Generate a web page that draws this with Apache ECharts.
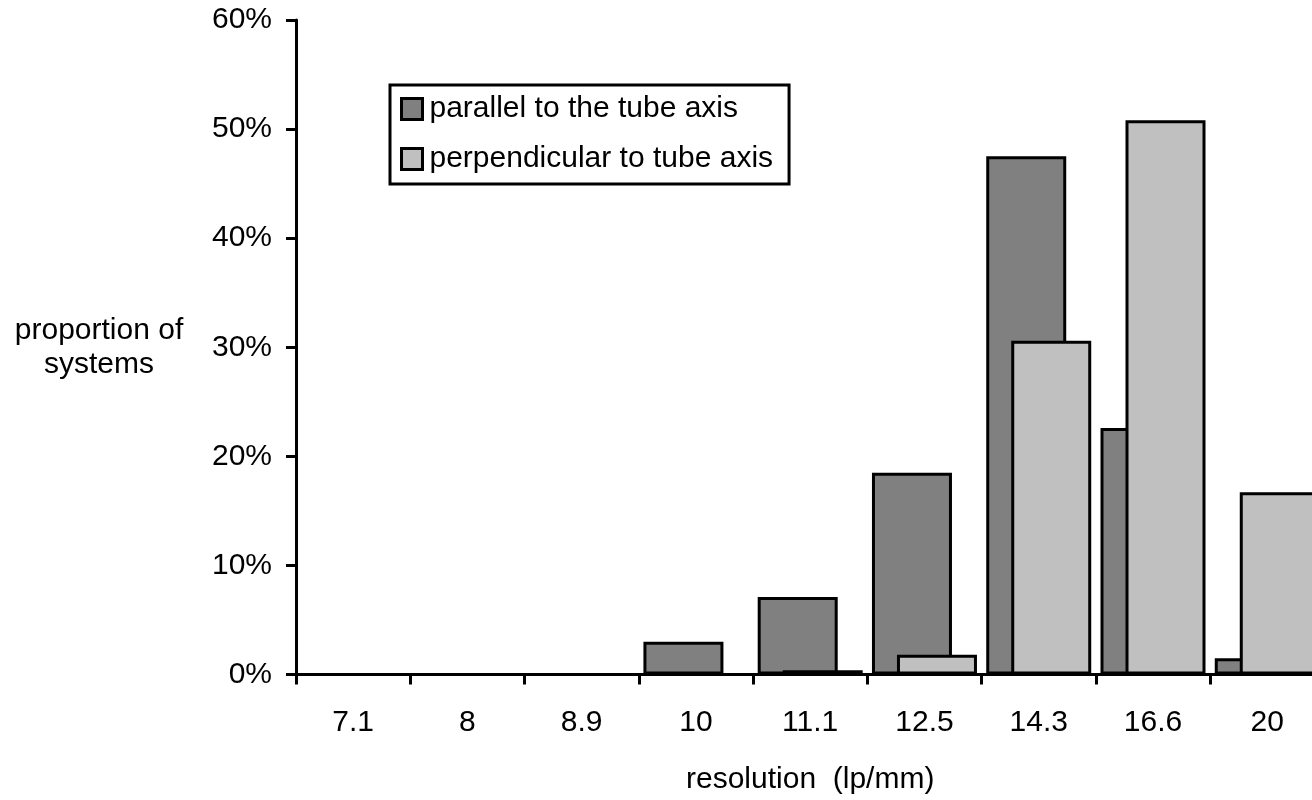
<!DOCTYPE html>
<html>
<head>
<meta charset="utf-8">
<script src="https://cdn.jsdelivr.net/npm/echarts@6/dist/echarts.min.js"></script>
<style>
  html, body { margin: 0; padding: 0; background: #ffffff; }
  #chart { width: 1312px; height: 800px; }
</style>
</head>
<body>
<div id="chart"></div>
<script>
// Data (percent of systems)
const categories = ['7.1', '8', '8.9', '10', '11.1', '12.5', '14.3', '16.6', '20'];
const parallelValues = [0, 0, 0, 3.0, 7.1, 18.5, 47.5, 22.6, 1.5];
const perpendicularValues = [0, 0, 0, 0, 0.4, 1.8, 30.6, 50.8, 16.7];
const seriesNames = ['parallel to the tube axis', 'perpendicular to tube axis'];
const yTicks = { min: 0, max: 60, interval: 10 };

const FONT = 'Liberation Sans, Arial, Helvetica, sans-serif';
const chart = echarts.init(document.getElementById('chart'), null, { renderer: 'canvas' });

chart.setOption({
  animation: false,
  backgroundColor: '#ffffff',
  textStyle: { fontFamily: FONT, color: '#000' },
  grid: { left: 296, top: 20, width: 1028.4, bottom: 125.5, containLabel: false, outerBoundsMode: 'none' },
  legend: {
    orient: 'vertical',
    left: 390,
    top: 85,
    padding: [9, 16, 10, 10],
    itemGap: 20,
    itemWidth: 21,
    itemHeight: 21,
    icon: 'rect',
    selectedMode: false,
    backgroundColor: '#ffffff',
    borderColor: '#000',
    borderWidth: 3,
    borderRadius: 0,
    itemStyle: { borderColor: '#000', borderWidth: 3 },
    textStyle: { fontSize: 30, color: '#000', fontFamily: FONT, padding: [0, 0, 0, 2] },
    data: seriesNames
  },
  xAxis: {
    type: 'category',
    data: categories,
    boundaryGap: true,
    name: 'resolution  (lp/mm)',
    nameLocation: 'middle',
    nameGap: 90,
    nameTextStyle: { fontSize: 30, color: '#000', fontFamily: FONT },
    axisLine: { show: true, lineStyle: { color: '#000', width: 3 } },
    axisTick: { show: true, length: 10, lineStyle: { color: '#000', width: 3 } },
    axisLabel: { fontSize: 30, color: '#000', margin: 33, fontFamily: FONT },
    splitLine: { show: false }
  },
  yAxis: {
    type: 'value',
    min: yTicks.min,
    max: yTicks.max,
    interval: yTicks.interval,
    name: 'proportion of\nsystems',
    nameLocation: 'middle',
    nameRotate: 0,
    nameGap: 197,
    nameTextStyle: { fontSize: 30, color: '#000', fontFamily: FONT, align: 'center', verticalAlign: 'middle', lineHeight: 34 },
    axisLine: { show: true, lineStyle: { color: '#000', width: 3 } },
    axisTick: { show: true, length: 10, lineStyle: { color: '#000', width: 3 } },
    axisLabel: { fontSize: 30, color: '#000', margin: 24, fontFamily: FONT, formatter: '{value}%' },
    splitLine: { show: false }
  },
  series: [
    {
      name: seriesNames[0],
      type: 'bar',
      data: parallelValues,
      barWidth: 80,
      barGap: '-68.75%',
      itemStyle: { color: '#808080', borderColor: '#000', borderWidth: 3 }
    },
    {
      name: seriesNames[1],
      type: 'bar',
      data: perpendicularValues,
      barWidth: 80,
      barGap: '-68.75%',
      itemStyle: { color: '#c0c0c0', borderColor: '#000', borderWidth: 3 }
    }
  ]
});
</script>
</body>
</html>
